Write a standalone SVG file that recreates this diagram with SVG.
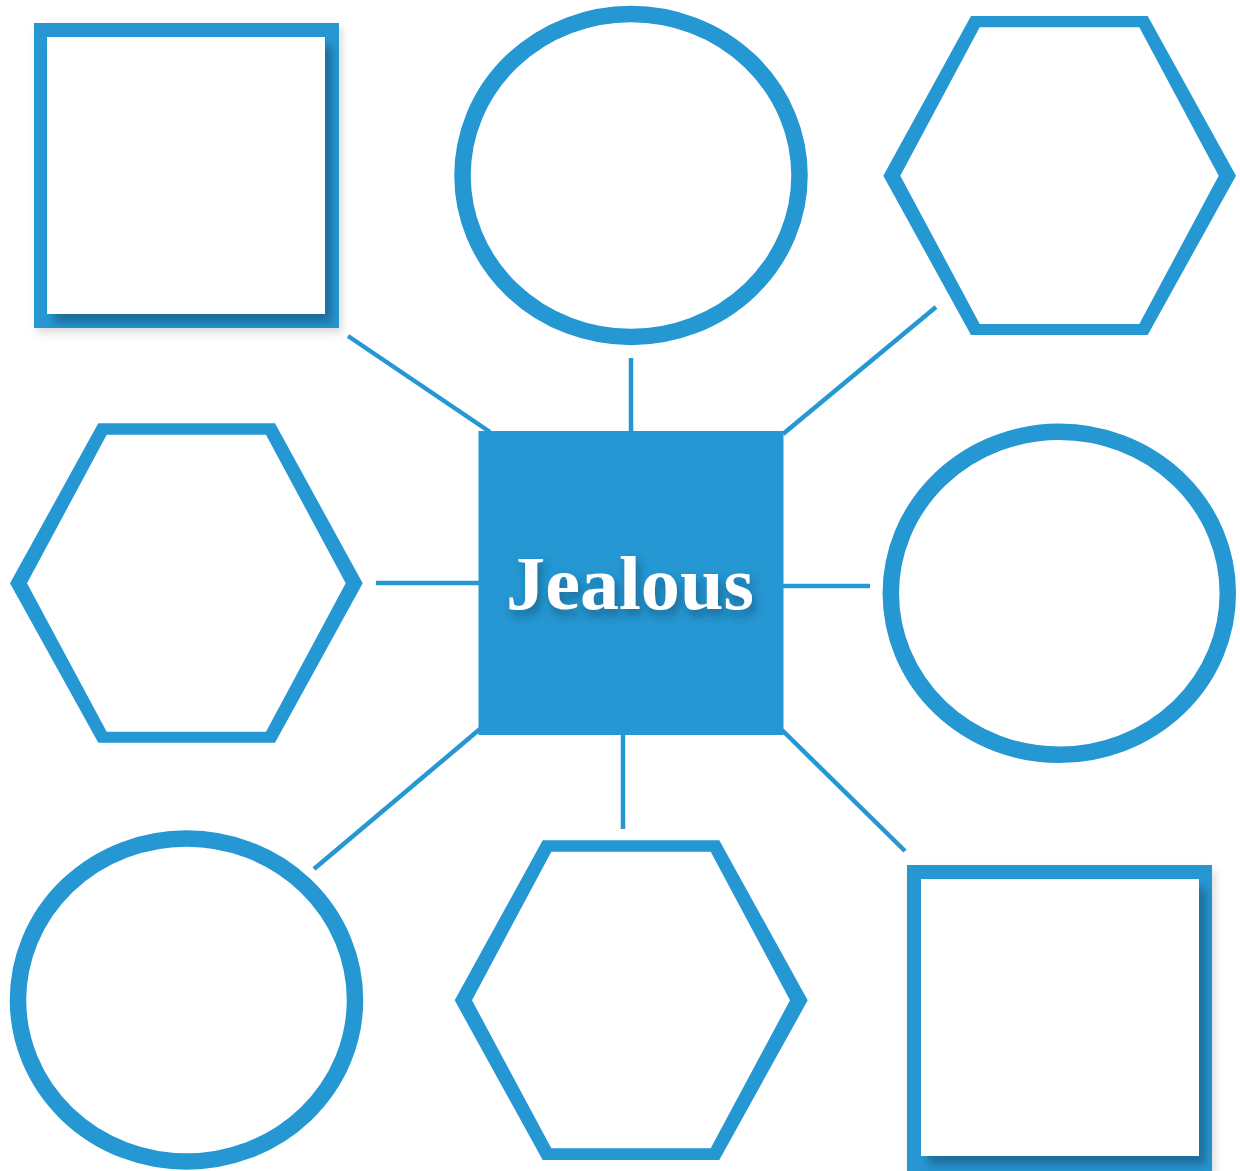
<svg xmlns="http://www.w3.org/2000/svg" width="1240" height="1171" viewBox="0 0 1240 1171">
<style>
.blue{fill:#2597d3}
.inner{fill:#ffffff}
.conn{stroke:#2597d3;stroke-width:4.5;fill:none}
.label{font-family:"Liberation Serif","DejaVu Serif",serif;font-weight:bold;font-size:76px;fill:#ffffff}
</style>
<defs>
<filter id="outerShadow" x="-10%" y="-10%" width="130%" height="130%">
<feDropShadow dx="3" dy="5" stdDeviation="4" flood-color="#000000" flood-opacity="0.14"/>
</filter>
<filter id="blur4" x="-10%" y="-10%" width="130%" height="130%">
<feGaussianBlur stdDeviation="4"/>
</filter>
<filter id="textShadow" x="-10%" y="-30%" width="130%" height="170%">
<feDropShadow dx="3" dy="6" stdDeviation="5" flood-color="#0b3550" flood-opacity="0.5"/>
</filter>
<clipPath id="clipTL"><rect x="34" y="23" width="305" height="305"/></clipPath>
<clipPath id="clipBR"><rect x="907" y="865" width="305" height="306"/></clipPath>
</defs>
<rect x="0" y="0" width="1240" height="1171" fill="#ffffff"/>
<g id="connectors">
<line class="conn" x1="348" y1="336" x2="490" y2="432"/>
<line class="conn" x1="631" y1="358" x2="631" y2="432"/>
<line class="conn" x1="936" y1="307" x2="783" y2="434"/>
<line class="conn" x1="376" y1="583" x2="480" y2="583"/>
<line class="conn" x1="782" y1="586" x2="870" y2="586"/>
<line class="conn" x1="314" y1="869" x2="480" y2="729"/>
<line class="conn" x1="623" y1="734" x2="623" y2="829"/>
<line class="conn" x1="782" y1="730" x2="905" y2="851"/>
</g>
<g id="node-square-tl">
<rect class="blue" x="34" y="23" width="305" height="305" filter="url(#outerShadow)"/>
<g clip-path="url(#clipTL)">
<rect x="54" y="46" width="278" height="277" fill="#184e6e" opacity="0.55" filter="url(#blur4)"/>
</g>
<rect class="inner" x="47" y="37" width="278" height="277"/>
</g>
<g id="node-ellipse-top">
<ellipse cx="631" cy="175.5" rx="168.5" ry="161.5" fill="#ffffff" stroke="#2597d3" stroke-width="16.5"/>
</g>
<g id="node-hex-tr">
<path class="blue" fill-rule="evenodd" d="M971,16 L1147.7,16 L1236,175.7 L1147.7,335 L971,335 L883.3,175.7 Z M979.7,27.3 L900.3,175.7 L979.7,324 L1139.3,324 L1218.7,175.7 L1139.3,27.3 Z"/>
</g>
<g id="node-hex-left">
<path class="blue" fill-rule="evenodd" d="M98.3,423.3 L275,423.3 L362.7,583.3 L275,742.7 L98.3,742.7 L10,583.3 Z M106.7,434.7 L27,583.3 L106.7,731.7 L266,731.7 L345.7,583.3 L266,434.7 Z"/>
</g>
<g id="node-center">
<rect class="blue" x="478.5" y="431" width="305" height="304"/>
<text class="label" x="630" y="609" text-anchor="middle" textLength="248" lengthAdjust="spacingAndGlyphs" filter="url(#textShadow)">Jealous</text>
</g>
<g id="node-ellipse-right">
<ellipse cx="1059.3" cy="593.3" rx="168.5" ry="161.5" fill="#ffffff" stroke="#2597d3" stroke-width="16.5"/>
</g>
<g id="node-ellipse-bl">
<ellipse cx="186.5" cy="1000" rx="168.5" ry="161.5" fill="#ffffff" stroke="#2597d3" stroke-width="16.5"/>
</g>
<g id="node-hex-bottom">
<path class="blue" fill-rule="evenodd" d="M542.7,840.3 L719.3,840.3 L807.7,1000.3 L719.3,1160 L542.7,1160 L454.7,1000.3 Z M551.3,851.7 L472,1000.3 L551.3,1148.3 L710.7,1148.3 L790,1000.3 L710.7,851.7 Z"/>
</g>
<g id="node-square-br">
<rect class="blue" x="907" y="865" width="305" height="306" filter="url(#outerShadow)"/>
<g clip-path="url(#clipBR)">
<rect x="928" y="888" width="278" height="277" fill="#184e6e" opacity="0.55" filter="url(#blur4)"/>
</g>
<rect class="inner" x="921" y="879" width="278" height="277"/>
</g>
</svg>
